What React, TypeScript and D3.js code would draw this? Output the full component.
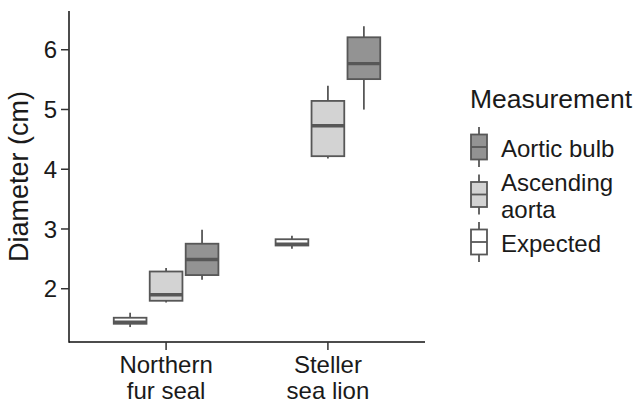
import React, { useEffect, useRef } from 'react';
import * as d3 from 'd3';

const width = 634;
const height = 403;
const margin = { top: 11, right: 209, bottom: 61, left: 69 };

const species = ['Northern fur seal', 'Steller sea lion'];
const speciesLines = [
  ['Northern', 'fur seal'],
  ['Steller', 'sea lion'],
];
// left to right inside each group
const measures = ['Expected', 'Ascending aorta', 'Aortic bulb'];
// legend order, top to bottom
const legendOrder = ['Aortic bulb', 'Ascending aorta', 'Expected'];
const legendLines: Record<string, string[]> = {
  'Aortic bulb': ['Aortic bulb'],
  'Ascending aorta': ['Ascending', 'aorta'],
  Expected: ['Expected'],
};
const fills: Record<string, string> = {
  'Aortic bulb': '#939393',
  'Ascending aorta': '#d3d3d3',
  Expected: '#ffffff',
};

// [min, q1, median, q3, max] per species, per measure
const northern = [
  [1.35, 1.405, 1.43, 1.506, 1.59],
  [1.76, 1.79, 1.89, 2.28, 2.34],
  [2.14, 2.22, 2.48, 2.745, 2.98],
];
const steller = [
  [2.66, 2.715, 2.735, 2.82, 2.88],
  [4.17, 4.21, 4.72, 5.135, 5.39],
  [4.99, 5.5, 5.76, 6.2, 6.385],
];
const yTicks = [2, 3, 4, 5, 6];

const stroke = '#575757';
const textColor = '#1a1a1a';

export default function App() {
  const yAxisRef = useRef<SVGGElement>(null);

  useEffect(() => {
    document.body.style.margin = '0';
  }, []);

  const x = d3
    .scalePoint()
    .domain(species)
    .range([margin.left, width - margin.right])
    .padding(0.6);
  const step = x.step();
  const dodge = d3
    .scaleBand()
    .domain(measures)
    .range([-step / 3, step / 3])
    .paddingInner(0.09)
    .paddingOuter(0.045);
  const y = d3
    .scaleLinear()
    .domain([1.1, 6.64])
    .range([height - margin.bottom, margin.top]);

  useEffect(() => {
    const g = d3.select(yAxisRef.current);
    g.call(d3.axisLeft(y).tickValues(yTicks).tickSize(8).tickPadding(4).tickFormat(d3.format('d')));
    g.select('.domain').remove();
    g.selectAll('.tick line').attr('stroke', '#333').attr('stroke-width', 1.5);
    g.selectAll('.tick text')
      .attr('fill', textColor)
      .attr('font-size', 24)
      .attr('font-family', 'Liberation Sans, Arial, sans-serif')
      .attr('dy', '0.36em');
  });

  const rows = [
    { sp: species[0], vals: northern },
    { sp: species[1], vals: steller },
  ];

  const boxes = rows.flatMap((r) =>
    measures.map((m, i) => {
      const [lo, q1, med, q3, hi] = r.vals[i];
      const x0 = (x(r.sp) as number) + (dodge(m) as number);
      return { key: r.sp + m, m, x0, w: dodge.bandwidth(), lo, q1, med, q3, hi };
    })
  );

  const font = 'Liberation Sans, Arial, sans-serif';
  const legendX = 470;
  const keyW = 16;
  const keyStep = 47.5;
  const keyTop = 147;

  return (
    <svg width={width} height={height} style={{ display: 'block', background: '#fff' }}>
      {boxes.map((b) => {
        const cx = b.x0 + b.w / 2;
        return (
          <g key={b.key}>
            <line x1={cx} x2={cx} y1={y(b.hi)} y2={y(b.q3)} stroke={stroke} strokeWidth={1.8} />
            <line x1={cx} x2={cx} y1={y(b.q1)} y2={y(b.lo)} stroke={stroke} strokeWidth={1.8} />
            <rect
              x={b.x0}
              y={y(b.q3)}
              width={b.w}
              height={y(b.q1) - y(b.q3)}
              fill={fills[b.m]}
              stroke={stroke}
              strokeWidth={1.8}
            />
            <line x1={b.x0} x2={b.x0 + b.w} y1={y(b.med)} y2={y(b.med)} stroke={stroke} strokeWidth={3.4} />
          </g>
        );
      })}

      {/* axis lines */}
      <line x1={margin.left} x2={margin.left} y1={margin.top} y2={height - margin.bottom + 0.75} stroke="#111" strokeWidth={1.5} />
      <line x1={margin.left} x2={width - margin.right} y1={height - margin.bottom} y2={height - margin.bottom} stroke="#111" strokeWidth={1.5} />
      <g ref={yAxisRef} transform={`translate(${margin.left},0)`} />

      {species.map((s, i) => (
        <g key={s} transform={`translate(${x(s)},${height - margin.bottom})`}>
          <line y1={0} y2={8} stroke="#333" strokeWidth={1.5} />
          <text textAnchor="middle" fontFamily={font} fontSize={24} fill={textColor}>
            {speciesLines[i].map((t, j) => (
              <tspan key={t} x={0} y={30.5 + j * 26}>
                {t}
              </tspan>
            ))}
          </text>
        </g>
      ))}

      <text
        transform={`translate(28,${(margin.top + height - margin.bottom) / 2}) rotate(-90)`}
        textAnchor="middle"
        fontFamily={font}
        fontSize={27}
        fill={textColor}
      >
        Diameter (cm)
      </text>

      {/* legend */}
      <text x={legendX} y={108} fontFamily={font} fontSize={26.5} fill={textColor}>
        Measurement
      </text>
      {legendOrder.map((m, i) => {
        const cy = keyTop + i * keyStep;
        const cx = legendX + 1 + keyW / 2;
        const lines = legendLines[m];
        return (
          <g key={m}>
            <line x1={cx} x2={cx} y1={cy - 20} y2={cy + 20} stroke={stroke} strokeWidth={1.8} />
            <rect x={cx - keyW / 2} y={cy - 12.5} width={keyW} height={25} fill={fills[m]} stroke={stroke} strokeWidth={1.8} />
            <line x1={cx - keyW / 2} x2={cx + keyW / 2} y1={cy} y2={cy} stroke={stroke} strokeWidth={1.8} />
            <text fontFamily={font} fontSize={24} fill={textColor}>
              {lines.map((t, j) => (
                <tspan key={t} x={501} y={cy + 10 - (lines.length - 1) * 13.4 + j * 26.7}>
                  {t}
                </tspan>
              ))}
            </text>
          </g>
        );
      })}
    </svg>
  );
}
